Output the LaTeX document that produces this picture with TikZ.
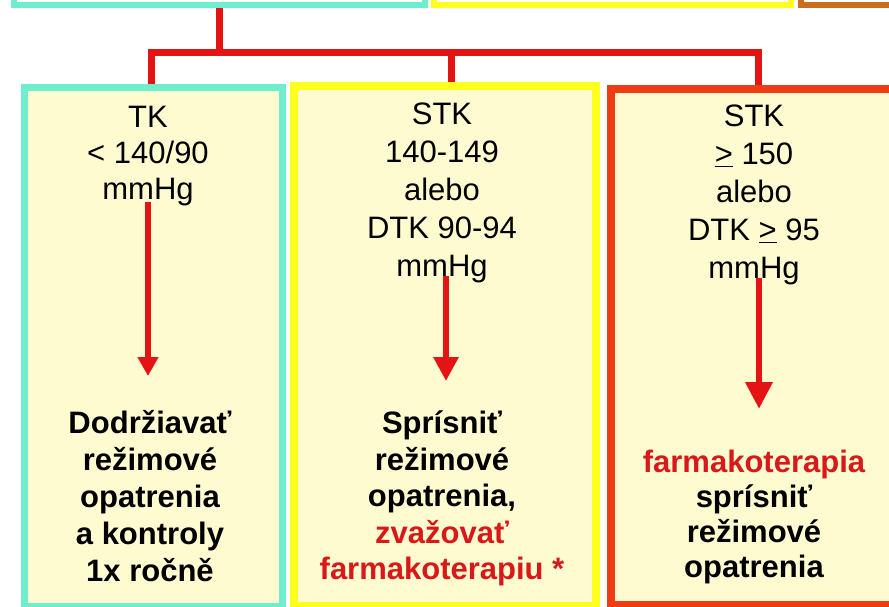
\documentclass[tikz,border=0pt]{standalone}
\usepackage{fontspec}
\setmainfont{Liberation Sans}
\usetikzlibrary{arrows.meta}
\definecolor{cream}{RGB}{255,251,208}
\definecolor{cyanb}{RGB}{110,238,205}
\definecolor{yellb}{RGB}{255,255,30}
\definecolor{redb}{RGB}{240,60,20}
\definecolor{brownb}{RGB}{200,110,30}
\definecolor{connred}{RGB}{228,20,20}
\definecolor{tred}{RGB}{215,25,25}
\pgfdeclarelayer{bg}
\pgfsetlayers{bg,main}
\tikzset{
  box/.style={rectangle, fill=cream, inner sep=0pt, anchor=north west},
  topbox/.style={rectangle, fill=white, line width=6pt, inner sep=0pt, anchor=north west},
  conn/.style={draw=connred, line width=7pt},
  arr/.style={draw=connred, line width=6.5pt},
  toptext/.style={align=center, inner sep=0pt, anchor=north},
  bottext/.style={align=center, inner sep=0pt, anchor=north}
}
\begin{document}
\begin{tikzpicture}[x=1pt,y=-1pt]
\useasboundingbox (0,0) rectangle (889,607);
\clip (0,0) rectangle (889,607);
% top (partially visible) boxes
\node[topbox, draw=cyanb, minimum width=411pt, minimum height=62pt] (t1) at (11,-60) {};
\node[topbox, draw=yellb, minimum width=357pt, minimum height=62pt] (t2) at (431,-60) {};
\node[topbox, draw=brownb, minimum width=142pt, minimum height=62pt] (t3) at (798,-60) {};
% lower boxes
\node[box, draw=cyanb, line width=7pt, minimum width=258pt, minimum height=519pt] (b1) at (21,84) {};
\node[box, draw=yellb, line width=8pt, minimum width=302pt, minimum height=520pt] (b2) at (290,82) {};
\node[box, draw=redb, line width=8pt, minimum width=303pt, minimum height=516pt] (b3) at (607,85) {};
% connectors
\coordinate (h1) at (151,53);
\coordinate (h2) at (451,53);
\coordinate (h3) at (758,53);
\begin{pgfonlayer}{bg}
\draw[conn] (t1.south) -- (t1.south |- h1);
\draw[conn] (b1.north -| h1) -- (h1) -- (h3) -- (b3.north -| h3);
\draw[conn] (h2) -- (b2.north -| h2);
\end{pgfonlayer}
% upper texts
\node[toptext, font=\fontsize{31}{36}\selectfont] (l1) at (148,106) {TK\\< 140/90\\mmHg};
\node[toptext, font=\fontsize{31}{38}\selectfont] (m1) at (442,103) {STK\\140-149\\alebo\\DTK 90-94\\mmHg};
\node[toptext, font=\fontsize{31}{38}\selectfont] (r1) at (754,105) {STK\\\underline{>} 150\\alebo\\DTK \underline{>} 95\\mmHg};
% lower texts
\node[bottext, font=\fontsize{31}{37}\selectfont\bfseries] (l2) at (150,410) {Dodržiavať\\režimové\\opatrenia\\a kontroly\\1x ročně};
\node[bottext, font=\fontsize{31}{36.5}\selectfont\bfseries] (m2) at (442,411) {Sprísniť\\režimové\\opatrenia,\\\textcolor{tred}{zvažovať}\\\textcolor{tred}{farmakoterapiu *}};
\node[bottext, font=\fontsize{31}{35}\selectfont\bfseries] (r2) at (754,450) {\textcolor{tred}{farmakoterapia}\\sprísniť\\režimové\\opatrenia};
% arrows
\coordinate (a1s) at (148,202);
\coordinate (a1e) at (148,376);
\coordinate (a2s) at (446,276);
\coordinate (a2e) at (446,381);
\coordinate (a3s) at (759,278);
\coordinate (a3e) at (759,409);
\draw[arr, -{Triangle[width=20pt,length=19pt]}] (a1s) -- (a1e);
\draw[arr, -{Triangle[width=24pt,length=24pt]}] (a2s) -- (a2e);
\draw[arr, -{Triangle[width=26pt,length=27pt]}] (a3s) -- (a3e);
\end{tikzpicture}
\end{document}
